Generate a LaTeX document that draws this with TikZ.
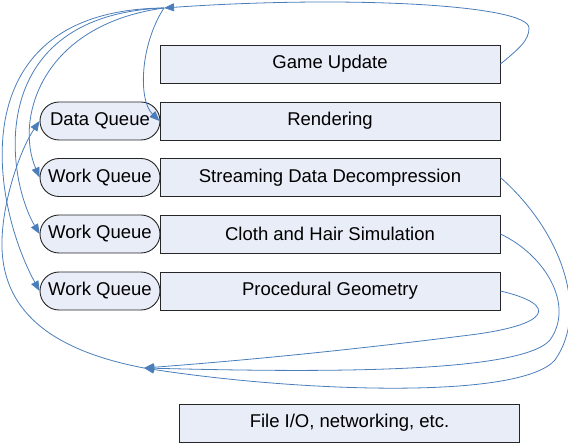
\documentclass[tikz,border=0pt]{standalone}
\usepackage{fontspec}
\setmainfont{Liberation Sans}
\usetikzlibrary{arrows.meta}
\definecolor{boxfill}{RGB}{233,237,247}
\definecolor{linkblue}{RGB}{74,126,187}
\begin{document}
\begin{tikzpicture}[x=1pt,y=-1pt,
  taskbox/.style={draw=black!85, line width=0.9pt, fill=boxfill, minimum width=340pt, minimum height=38pt, inner sep=0pt, font=\fontsize{18.5}{22}\selectfont},
  queuebox/.style={taskbox, minimum width=120pt, rounded corners=19pt},
  link/.style={draw=linkblue, line width=0.8pt},
  tip/.style={-{Triangle[length=10pt,width=8pt]}}]
\useasboundingbox (0,0) rectangle (568,443);

\node[taskbox] (gu) at (330,64) {Game Update};
\node[taskbox] (rend) at (330,121) {Rendering};
\node[taskbox] (st) at (330,177.5) {Streaming Data Decompression};
\node[taskbox] (cl) at (330,234) {Cloth and Hair Simulation};
\node[taskbox] (pr) at (330,291) {Procedural Geometry};
\node[taskbox] (io) at (349.5,423) {File I/O, networking, etc.};

\node[queuebox] (dq) at (100,121) {Data Queue};
\node[queuebox] (wq1) at (100,177.5) {Work Queue};
\node[queuebox] (wq2) at (100,234) {Work Queue};
\node[queuebox] (wq3) at (100,291) {Work Queue};

\coordinate (T) at (164,8);
\coordinate (B) at (144,368);

% game update to top hub
\draw[link,tip] (gu.east) .. controls (520,48) and (529,40) .. (529,28) .. controls (529,5) and (350,-5) .. (T);

% fan out from top hub
\draw[link,tip] (T) .. controls (140,45) and (138,100) .. (rend.west);
\draw[link,tip] (T) .. controls (40,25) and (15,120) .. (wq1.west);
\draw[link,tip] (T) .. controls (-15,15) and (5,175) .. (wq2.west);
\draw[link,tip] (T) .. controls (-40,10) and (-10,200) .. (wq3.west);

% tasks back to bottom hub
\draw[link,tip] (st.east) .. controls (560,230) and (590,310) .. (555,360) .. controls (520,400) and (300,392) .. (B);
\draw[link,tip] (cl.east) .. controls (545,255) and (575,305) .. (550,340) .. controls (520,375) and (300,372) .. (B);
\draw[link,tip] (pr.east) .. controls (560,305) and (550,325) .. (470,335) .. controls (350,350) and (250,360) .. (B);

% bottom hub to data queue
\draw[link,tip] (B) .. controls (50,350) and (0,310) .. (2,240) .. controls (3,200) and (20,150) .. (dq.west);
\end{tikzpicture}
\end{document}
